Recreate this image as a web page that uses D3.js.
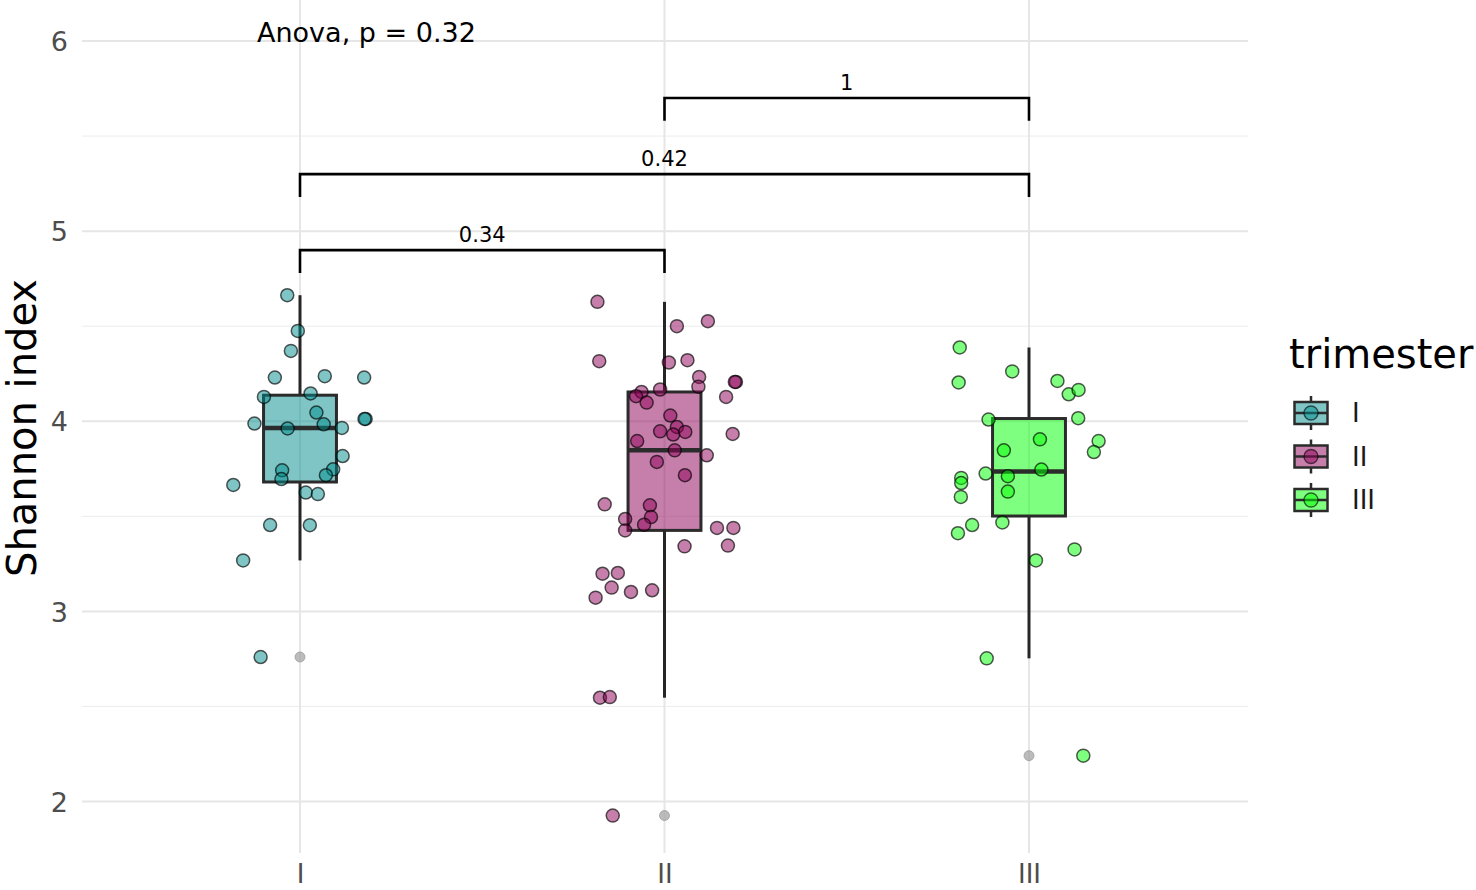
<!DOCTYPE html>
<html>
<head>
<meta charset="utf-8">
<script src="https://cdn.jsdelivr.net/npm/d3@7"></script>
<style>
  html, body { margin: 0; padding: 0; background: #ffffff; }
  svg { display: block; font-family: "DejaVu Sans", sans-serif; }
</style>
</head>
<body>
<svg id="chart" width="1476" height="890"></svg>
<script>
// ---------- data ----------
const categories = ["I", "II", "III"];
const fillColors = ["#008B8B", "#8E0058", "#00FF00"];

const valuesI = [4.663, 4.475, 4.370, 4.230, 4.237, 4.230, 4.128, 4.146, 4.046, 4.012, 4.012,
  3.988, 3.984, 3.962, 3.965, 3.817, 3.747, 3.716, 3.742, 3.696, 3.665, 3.625, 3.617,
  3.454, 3.453, 3.268, 2.760];
const jitterI = [-0.035, -0.006, -0.025, -0.069, 0.068, 0.176, -0.099, 0.029, 0.045, 0.180, 0.177,
  -0.125, 0.065, -0.034, 0.115, 0.117, 0.091, 0.071, -0.049, -0.051, -0.183, 0.016, 0.049,
  -0.082, 0.027, -0.156, -0.108];

const valuesII = [4.628, 4.500, 4.526, 4.316, 4.309, 4.321, 4.233, 4.182, 4.207, 4.207, 4.128,
  4.154, 4.167, 4.132, 4.098, 4.030, 3.947, 3.970, 3.930, 3.944, 3.896, 3.933, 3.847,
  3.821, 3.786, 3.716, 3.563, 3.558, 3.496, 3.486, 3.426, 3.456, 3.439, 3.439, 3.342,
  3.346, 3.198, 3.202, 3.125, 3.102, 3.111, 3.072, 2.546, 2.549, 1.926];
const jitterII = [-0.184, 0.034, 0.119, -0.179, 0.012, 0.063, 0.095, 0.093, 0.196, 0.193, 0.169,
  -0.063, -0.012, -0.078, -0.049, 0.016, -0.012, 0.034, 0.024, 0.057, -0.075, 0.187, 0.028,
  0.116, -0.021, 0.056, -0.164, -0.040, -0.037, -0.108, -0.108, -0.056, 0.144, 0.189, 0.055,
  0.174, -0.170, -0.128, -0.145, -0.092, -0.034, -0.189, -0.177, -0.150, -0.142];

const valuesIII = [4.388, 4.204, 4.262, 4.212, 4.142, 4.165, 4.009, 4.016, 3.905, 3.896, 3.838,
  3.847, 3.725, 3.746, 3.711, 3.702, 3.675, 3.630, 3.602, 3.454, 3.468, 3.411, 3.326,
  3.268, 2.753, 2.241];
const jitterIII = [-0.190, -0.193, -0.046, 0.078, 0.109, 0.136, -0.111, 0.135, 0.030, 0.191, 0.178,
  -0.069, -0.119, 0.034, -0.058, -0.186, -0.186, -0.058, -0.187, -0.156, -0.073, -0.195, 0.125,
  0.019, -0.116, 0.149];

const yTicks = [2, 3, 4, 5, 6];
const yMinorTicks = [2.5, 3.5, 4.5, 5.5];

const comparisons = [
  { from: "I", to: "II", y: 4.9, label: "0.34" },
  { from: "I", to: "III", y: 5.3, label: "0.42" },
  { from: "II", to: "III", y: 5.7, label: "1" }
];
const anovaLabel = "Anova, p = 0.32";
const yTitle = "Shannon index";
const legendTitle = "trimester";

// ---------- scales ----------
const svg = d3.select("#chart");
const W = 1476, H = 890;
svg.append("rect").attr("width", W).attr("height", H).attr("fill", "#ffffff");

const panel = { left: 82, right: 1248, top: 0, bottom: 853 };
const x = d3.scalePoint().domain(categories).range([300, 1029]);
const unit = x("II") - x("I");
const y = d3.scaleLinear().domain([2, 6]).range([801.5, 41]);

// ---------- grid ----------
const grid = svg.append("g");
grid.selectAll(".minor").data(yMinorTicks).join("line")
  .attr("x1", panel.left).attr("x2", panel.right)
  .attr("y1", d => y(d)).attr("y2", d => y(d))
  .attr("stroke", "#ececec").attr("stroke-width", 1);
grid.selectAll(".major").data(yTicks).join("line")
  .attr("x1", panel.left).attr("x2", panel.right)
  .attr("y1", d => y(d)).attr("y2", d => y(d))
  .attr("stroke", "#e6e6e6").attr("stroke-width", 2);
grid.selectAll(".vmajor").data(categories).join("line")
  .attr("x1", d => x(d)).attr("x2", d => x(d))
  .attr("y1", panel.top).attr("y2", panel.bottom)
  .attr("stroke", "#e6e6e6").attr("stroke-width", 2);

// ---------- axes ----------
const yAxis = d3.axisLeft(y).tickValues(yTicks).tickSize(0).tickPadding(0).tickFormat(d3.format("d"));
const yg = svg.append("g").attr("transform", "translate(68,0)").call(yAxis);
yg.select(".domain").remove();
yg.selectAll("text").attr("font-size", 27).attr("fill", "#4d4d4d")
  .attr("font-family", "DejaVu Sans").attr("dy", "0.36em");

const xAxis = d3.axisBottom(x).tickSize(0).tickPadding(0);
const xg = svg.append("g").attr("transform", "translate(0,883)").call(xAxis);
xg.select(".domain").remove();
xg.selectAll("text").attr("font-size", 26).attr("fill", "#4d4d4d")
  .attr("font-family", "DejaVu Sans").attr("dy", "0");

svg.append("text")
  .attr("transform", "translate(36,428) rotate(-90)")
  .attr("text-anchor", "middle")
  .attr("font-size", 40).attr("fill", "#000")
  .text(yTitle);

// ---------- boxplots ----------
const groups = [
  { cat: "I", values: valuesI, jitter: jitterI, color: fillColors[0] },
  { cat: "II", values: valuesII, jitter: jitterII, color: fillColors[1] },
  { cat: "III", values: valuesIII, jitter: jitterIII, color: fillColors[2] }
];

groups.forEach(g => {
  const s = g.values.slice().sort(d3.ascending);
  const q1 = d3.quantile(s, 0.25), med = d3.quantile(s, 0.5), q3 = d3.quantile(s, 0.75);
  const iqr = q3 - q1;
  const lo = d3.min(s.filter(v => v >= q1 - 1.5 * iqr));
  const hi = d3.max(s.filter(v => v <= q3 + 1.5 * iqr));
  g.stats = { q1, med, q3, lo, hi, out: s.filter(v => v < lo || v > hi) };
});

const boxHalf = unit * 0.1;
const bg = svg.append("g");
groups.forEach(g => {
  const cx = x(g.cat), st = g.stats;
  const gg = bg.append("g");
  gg.append("line").attr("x1", cx).attr("x2", cx).attr("y1", y(st.q3)).attr("y2", y(st.hi))
    .attr("stroke", "#262626").attr("stroke-width", 3);
  gg.append("line").attr("x1", cx).attr("x2", cx).attr("y1", y(st.q1)).attr("y2", y(st.lo))
    .attr("stroke", "#262626").attr("stroke-width", 3);
  gg.append("rect").attr("x", cx - boxHalf).attr("width", 2 * boxHalf)
    .attr("y", y(st.q3)).attr("height", y(st.q1) - y(st.q3))
    .attr("fill", g.color).attr("fill-opacity", 0.5)
    .attr("stroke", "#2b2b2b").attr("stroke-width", 3);
  gg.append("line").attr("x1", cx - boxHalf).attr("x2", cx + boxHalf)
    .attr("y1", y(st.med)).attr("y2", y(st.med))
    .attr("stroke", "#2b2b2b").attr("stroke-width", 4.5);
  gg.selectAll(".out").data(st.out).join("circle")
    .attr("cx", cx).attr("cy", d => y(d)).attr("r", 5)
    .attr("fill", "#a6a6a6").attr("fill-opacity", 0.75)
    .attr("stroke", "#8c8c8c").attr("stroke-opacity", 0.6).attr("stroke-width", 1);
});

// ---------- jittered points ----------
const pg = svg.append("g");
groups.forEach(g => {
  pg.append("g").selectAll("circle").data(g.values).join("circle")
    .attr("cx", (d, i) => x(g.cat) + g.jitter[i] * unit)
    .attr("cy", d => y(d))
    .attr("r", 6.5)
    .attr("fill", g.color).attr("fill-opacity", 0.5)
    .attr("stroke", "#000").attr("stroke-opacity", 0.65).attr("stroke-width", 1.5);
});

// ---------- comparison brackets ----------
const tickLen = 0.12;
const brg = svg.append("g");
comparisons.forEach(c => {
  const x1 = x(c.from), x2 = x(c.to);
  brg.append("path")
    .attr("d", `M${x1},${y(c.y - tickLen)} L${x1},${y(c.y)} L${x2},${y(c.y)} L${x2},${y(c.y - tickLen)}`)
    .attr("fill", "none").attr("stroke", "#000").attr("stroke-width", 2.6);
  brg.append("text")
    .attr("x", (x1 + x2) / 2).attr("y", y(c.y) - 8)
    .attr("text-anchor", "middle").attr("font-size", 21).attr("fill", "#000")
    .text(c.label);
});

svg.append("text").attr("x", 257).attr("y", 42)
  .attr("font-size", 27).attr("fill", "#000").text(anovaLabel);

// ---------- legend ----------
const lg = svg.append("g");
lg.append("text").attr("x", 1289).attr("y", 368)
  .attr("font-size", 40).attr("fill", "#000").text(legendTitle);
const keyY = d3.scalePoint().domain(categories).range([413, 500]);
groups.forEach(g => {
  const cy = keyY(g.cat), kx = 1311;
  const k = lg.append("g");
  k.append("line").attr("x1", kx).attr("x2", kx).attr("y1", cy - 17).attr("y2", cy + 17)
    .attr("stroke", "#2b2b2b").attr("stroke-width", 2.5);
  k.append("rect").attr("x", kx - 16.5).attr("y", cy - 11).attr("width", 33).attr("height", 22)
    .attr("fill", "#fff");
  k.append("rect").attr("x", kx - 16.5).attr("y", cy - 11).attr("width", 33).attr("height", 22)
    .attr("fill", g.color).attr("fill-opacity", 0.5)
    .attr("stroke", "#2b2b2b").attr("stroke-width", 2.5);
  k.append("line").attr("x1", kx - 16.5).attr("x2", kx + 16.5).attr("y1", cy).attr("y2", cy)
    .attr("stroke", "#2b2b2b").attr("stroke-width", 2.5);
  k.append("circle").attr("cx", kx).attr("cy", cy).attr("r", 7)
    .attr("fill", g.color).attr("fill-opacity", 0.5)
    .attr("stroke", "#000").attr("stroke-opacity", 0.6).attr("stroke-width", 1.4);
  k.append("text").attr("x", 1352).attr("y", cy).attr("dy", "0.36em")
    .attr("font-size", 26).attr("fill", "#1a1a1a").text(g.cat);
});
</script>
</body>
</html>
